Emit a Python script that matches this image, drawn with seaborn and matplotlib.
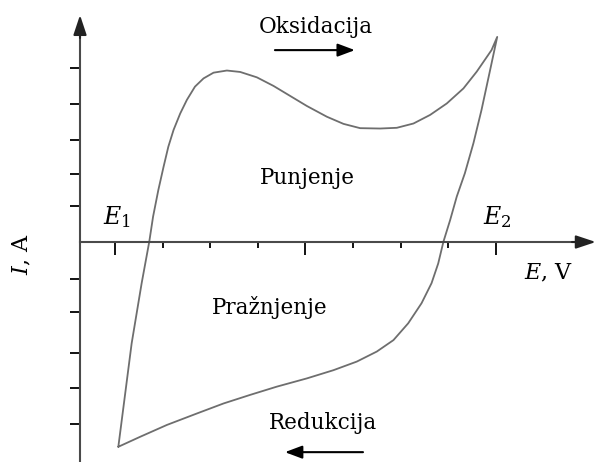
import matplotlib
matplotlib.use("Agg")
import matplotlib.pyplot as plt
import seaborn as sns
import pandas as pd

# potential (tick units, E1 = 0, E2 = 8) and current (tick units)
# anodic sweep E1 -> E2
e_ox = [0.07, 0.35, 0.56, 0.72, 0.80, 0.91, 1.02, 1.12, 1.23, 1.37, 1.51, 1.68,
        1.86, 2.07, 2.35, 2.63, 2.98, 3.33, 3.68, 4.03, 4.45, 4.80, 5.15, 5.57,
        5.92, 6.27, 6.62, 6.97, 7.32, 7.60, 7.91, 8.03]
i_ox = [-5.72, -2.83, -1.15, 0.01, 0.71, 1.45, 2.10, 2.66, 3.13, 3.59, 3.97, 4.34,
        4.57, 4.73, 4.79, 4.75, 4.60, 4.36, 4.08, 3.80, 3.50, 3.30, 3.18, 3.17,
        3.19, 3.31, 3.55, 3.87, 4.29, 4.76, 5.36, 5.73]
# cathodic sweep E2 -> E1
e_red = [7.88, 7.70, 7.53, 7.35, 7.18, 7.04, 6.90, 6.79, 6.65, 6.44, 6.16, 5.85,
         5.50, 5.08, 4.59, 4.03, 3.40, 2.84, 2.28, 1.72, 1.09, 0.53, 0.07]
i_red = [4.80, 3.69, 2.76, 1.92, 1.27, 0.61, 0.01, -0.60, -1.15, -1.71, -2.27, -2.74,
         -3.06, -3.34, -3.58, -3.81, -4.04, -4.27, -4.51, -4.79, -5.11, -5.44, -5.72]

x_ticks = [0, 1, 2, 3, 4, 5, 6, 7, 8]
x_major = [0, 4, 8]
y_ticks = [-5.08, -4.08, -3.10, -1.96, -1.03, 1.01, 1.90, 2.85, 3.85, 4.86]

df = pd.DataFrame({"E": e_ox + e_red, "I": i_ox + i_red})

sns.set_style("white")
plt.rcParams["font.family"] = ["DejaVu Serif"]
plt.rcParams["mathtext.fontset"] = "dejavuserif"
plt.rcParams["text.color"] = "black"

fig = plt.figure(figsize=(5.97, 4.62), dpi=100)
ax = fig.add_axes([0, 0, 1, 1])

sns.lineplot(data=df, x="E", y="I", sort=False, estimator=None, color="#6e6e6e",
             lw=1.3, ax=ax)

ax.set_xlim(-2.416, 10.126)
ax.set_ylim(-6.145, 6.76)
xa = -0.735
axis_col = "#4a4a4a"

for s in ["top", "right"]:
    ax.spines[s].set_visible(False)
ax.spines["left"].set_position(("data", xa))
ax.spines["bottom"].set_position(("data", 0))
ax.spines["left"].set_bounds(-6.145, 5.9)
ax.spines["bottom"].set_bounds(xa, 9.8)
for s in ["left", "bottom"]:
    ax.spines[s].set_color(axis_col)
    ax.spines[s].set_linewidth(1.5)

ax.set_xticks(x_major)
ax.set_xticks([t for t in x_ticks if t not in x_major], minor=True)
ax.set_yticks(y_ticks)
ax.tick_params(axis="x", which="major", direction="out", length=9, width=1.4,
               color="#111", labelbottom=False, bottom=True)
ax.tick_params(axis="x", which="minor", direction="out", length=4.5, width=1.4,
               color="#111", labelbottom=False, bottom=True)
ax.tick_params(axis="y", direction="out", length=7.5, width=1.4, color="#111",
               labelleft=False, left=True)
ax.set_xlabel("")
ax.set_ylabel("")

# axis arrow heads
head = dict(arrowstyle="-|>,head_length=0.75,head_width=0.25", color="#222", lw=1.5,
            mutation_scale=16, shrinkA=0, shrinkB=0)
ax.annotate("", xy=(xa, 6.34), xytext=(xa, 5.7), arrowprops=head)
ax.annotate("", xy=(10.1, 0), xytext=(9.6, 0), arrowprops=head)

# scan direction arrows
dirs = dict(arrowstyle="-|>,head_length=0.8,head_width=0.3", color="black", lw=1.5,
            mutation_scale=13, shrinkA=0, shrinkB=0)
ax.annotate("", xy=(5.04, 5.36), xytext=(3.36, 5.36), arrowprops=dirs)
ax.annotate("", xy=(3.57, -5.87), xytext=(5.21, -5.87), arrowprops=dirs)

fs = 15.5
ax.text(4.22, 6.01, "Oksidacija", ha="center", va="center", fontsize=fs)
ax.text(4.05, 1.79, "Punjenje", ha="center", va="center", fontsize=fs)
ax.text(3.26, -1.82, "Pražnjenje", ha="center", va="center", fontsize=fs)
ax.text(4.37, -5.06, "Redukcija", ha="center", va="center", fontsize=fs)
ax.text(0.04, 0.70, "$E_1$", ha="center", va="center", fontsize=17)
ax.text(8.03, 0.70, "$E_2$", ha="center", va="center", fontsize=17)
ax.text(9.10, -0.87, "$E$, V", ha="center", va="center", fontsize=16)
ax.text(-1.95, -0.34, "$I$, A", ha="center", va="center", fontsize=16, rotation=90)

fig.savefig("out.png", dpi=100)
